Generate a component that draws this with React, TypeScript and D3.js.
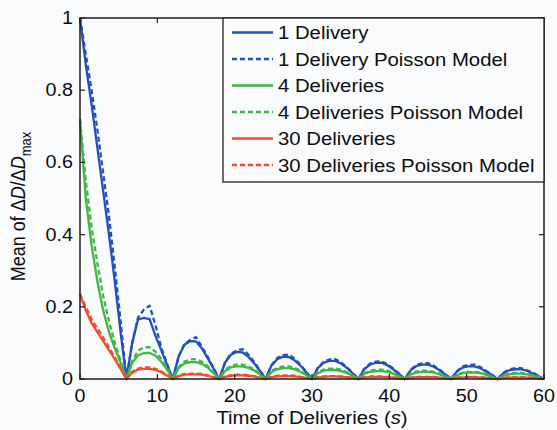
import React from "react";
import * as d3 from "d3";

const SEG_OFFSETS = [0, 0.75, 1.5, 2.25, 3, 3.75, 4.5, 5.25, 6];
const PERIOD_STARTS = [0, 6, 12, 18, 24, 30, 36, 42, 48, 54];
const X_TICKS = [0, 10, 20, 30, 40, 50, 60];
const Y_TICKS = [0, 0.2, 0.4, 0.6, 0.8, 1];
const Y_TICK_LABELS = ["0", "0.2", "0.4", "0.6", "0.8", "1"];

const ONE_DELIVERY = [
  [1.0, 0.87, 0.76, 0.64, 0.52, 0.4, 0.27, 0.13, 0],
  [0, 0.1, 0.165, 0.169, 0.166, 0.12, 0.08, 0.04, 0],
  [0, 0.062, 0.095, 0.105, 0.104, 0.085, 0.058, 0.03, 0],
  [0, 0.045, 0.067, 0.075, 0.074, 0.062, 0.044, 0.023, 0],
  [0, 0.037, 0.055, 0.062, 0.061, 0.052, 0.037, 0.019, 0],
  [0, 0.03, 0.045, 0.05, 0.05, 0.043, 0.031, 0.016, 0],
  [0, 0.027, 0.04, 0.045, 0.045, 0.038, 0.027, 0.014, 0],
  [0, 0.024, 0.036, 0.04, 0.04, 0.034, 0.024, 0.012, 0],
  [0, 0.021, 0.032, 0.035, 0.035, 0.03, 0.021, 0.011, 0],
  [0, 0.016, 0.024, 0.027, 0.027, 0.023, 0.016, 0.008, 0],
];
const ONE_DELIVERY_POISSON = [
  [1.0, 0.9, 0.8, 0.69, 0.57, 0.45, 0.31, 0.16, 0],
  [0, 0.1, 0.17, 0.192, 0.203, 0.15, 0.088, 0.042, 0],
  [0, 0.062, 0.097, 0.108, 0.116, 0.09, 0.062, 0.031, 0],
  [0, 0.046, 0.07, 0.079, 0.083, 0.068, 0.048, 0.025, 0],
  [0, 0.038, 0.058, 0.066, 0.068, 0.056, 0.04, 0.02, 0],
  [0, 0.031, 0.048, 0.054, 0.055, 0.046, 0.033, 0.017, 0],
  [0, 0.028, 0.043, 0.048, 0.049, 0.041, 0.029, 0.015, 0],
  [0, 0.025, 0.039, 0.043, 0.044, 0.037, 0.026, 0.013, 0],
  [0, 0.022, 0.035, 0.039, 0.04, 0.033, 0.023, 0.012, 0],
  [0, 0.017, 0.027, 0.03, 0.03, 0.025, 0.018, 0.009, 0],
];
const FOUR_DELIVERIES = [
  [0.72, 0.5, 0.37, 0.27, 0.19, 0.13, 0.085, 0.045, 0],
  [0, 0.045, 0.065, 0.072, 0.072, 0.065, 0.048, 0.026, 0],
  [0, 0.03, 0.043, 0.047, 0.047, 0.042, 0.032, 0.017, 0],
  [0, 0.022, 0.032, 0.035, 0.035, 0.031, 0.024, 0.013, 0],
  [0, 0.019, 0.027, 0.03, 0.03, 0.027, 0.02, 0.011, 0],
  [0, 0.016, 0.023, 0.025, 0.025, 0.022, 0.017, 0.009, 0],
  [0, 0.014, 0.02, 0.022, 0.022, 0.02, 0.015, 0.008, 0],
  [0, 0.013, 0.018, 0.02, 0.02, 0.018, 0.013, 0.007, 0],
  [0, 0.011, 0.016, 0.018, 0.018, 0.016, 0.012, 0.006, 0],
  [0, 0.009, 0.013, 0.015, 0.015, 0.013, 0.01, 0.005, 0],
];
const FOUR_DELIVERIES_POISSON = [
  [0.72, 0.55, 0.42, 0.32, 0.23, 0.16, 0.1, 0.05, 0],
  [0, 0.05, 0.078, 0.088, 0.088, 0.076, 0.056, 0.03, 0],
  [0, 0.033, 0.048, 0.054, 0.055, 0.048, 0.036, 0.019, 0],
  [0, 0.025, 0.036, 0.04, 0.04, 0.035, 0.027, 0.014, 0],
  [0, 0.022, 0.031, 0.035, 0.035, 0.031, 0.023, 0.012, 0],
  [0, 0.018, 0.026, 0.029, 0.029, 0.026, 0.019, 0.01, 0],
  [0, 0.016, 0.023, 0.026, 0.026, 0.023, 0.017, 0.009, 0],
  [0, 0.014, 0.021, 0.023, 0.023, 0.02, 0.015, 0.008, 0],
  [0, 0.012, 0.018, 0.02, 0.02, 0.018, 0.013, 0.007, 0],
  [0, 0.01, 0.015, 0.017, 0.017, 0.015, 0.011, 0.006, 0],
];
const THIRTY_DELIVERIES = [
  [0.235, 0.19, 0.155, 0.13, 0.105, 0.08, 0.055, 0.028, 0],
  [0, 0.018, 0.026, 0.028, 0.028, 0.025, 0.019, 0.01, 0],
  [0, 0.008, 0.012, 0.013, 0.013, 0.012, 0.009, 0.005, 0],
  [0, 0.006, 0.009, 0.01, 0.01, 0.009, 0.007, 0.004, 0],
  [0, 0.005, 0.007, 0.008, 0.008, 0.007, 0.005, 0.003, 0],
  [0, 0.004, 0.006, 0.007, 0.007, 0.006, 0.005, 0.003, 0],
  [0, 0.004, 0.005, 0.006, 0.006, 0.005, 0.004, 0.002, 0],
  [0, 0.003, 0.005, 0.005, 0.005, 0.005, 0.004, 0.002, 0],
  [0, 0.003, 0.004, 0.005, 0.005, 0.004, 0.003, 0.002, 0],
  [0, 0.003, 0.004, 0.004, 0.004, 0.004, 0.003, 0.002, 0],
];
const THIRTY_DELIVERIES_POISSON = [
  [0.235, 0.2, 0.165, 0.14, 0.115, 0.088, 0.06, 0.03, 0],
  [0, 0.02, 0.029, 0.032, 0.032, 0.028, 0.021, 0.011, 0],
  [0, 0.01, 0.014, 0.015, 0.015, 0.014, 0.01, 0.005, 0],
  [0, 0.007, 0.011, 0.012, 0.012, 0.011, 0.008, 0.004, 0],
  [0, 0.006, 0.009, 0.01, 0.01, 0.009, 0.006, 0.003, 0],
  [0, 0.005, 0.007, 0.008, 0.008, 0.007, 0.005, 0.003, 0],
  [0, 0.005, 0.007, 0.007, 0.007, 0.006, 0.005, 0.003, 0],
  [0, 0.004, 0.006, 0.006, 0.006, 0.006, 0.004, 0.002, 0],
  [0, 0.004, 0.005, 0.006, 0.006, 0.005, 0.004, 0.002, 0],
  [0, 0.003, 0.005, 0.005, 0.005, 0.005, 0.003, 0.002, 0],
];

const SERIES_NAMES = [
  "1 Delivery",
  "1 Delivery Poisson Model",
  "4 Deliveries",
  "4 Deliveries Poisson Model",
  "30 Deliveries",
  "30 Deliveries Poisson Model",
];
const SERIES_DATA = [
  ONE_DELIVERY,
  ONE_DELIVERY_POISSON,
  FOUR_DELIVERIES,
  FOUR_DELIVERIES_POISSON,
  THIRTY_DELIVERIES,
  THIRTY_DELIVERIES_POISSON,
];

const BLUE = "#2250c0";
const GREEN = "#3db845";
const RED = "#f24c2c";
const COLORS = [BLUE, BLUE, GREEN, GREEN, RED, RED];
const DASHED = [false, true, false, true, false, true];

const W = 557;
const H = 430;
const M = { left: 80, right: 13, top: 18, bottom: 51 };
const SX = 1.13;
const FONT = "'Liberation Sans', Arial, sans-serif";
const AXIS = "#1e1e1e";
const TEXT = "#0d0d0d";

function T({ x, y, anchor = "start", size = 17, rotate = 0, children }: any) {
  return (
    <g transform={`translate(${x},${y}) scale(${SX},1) rotate(${rotate})`}>
      <text textAnchor={anchor} fontSize={size} fontFamily={FONT} fill={TEXT}>
        {children}
      </text>
    </g>
  );
}

export default function App() {
  const x = d3.scaleLinear().domain([0, 60]).range([M.left, W - M.right]);
  const y = d3.scaleLinear().domain([0, 1]).range([H - M.bottom, M.top]);
  const line = d3
    .line<[number, number]>()
    .x((d) => x(d[0]))
    .y((d) => y(d[1]));

  const toPoints = (segs: number[][]) => {
    const pts: [number, number][] = [];
    segs.forEach((seg, i) =>
      seg.forEach((v, j) => pts.push([PERIOD_STARTS[i] + SEG_OFFSETS[j], v]))
    );
    return pts;
  };

  const x0 = x(0), x1 = x(60), y0 = y(0), y1 = y(1);
  const tick = 5;

  const legX = 223, legY = 18, legW = x1 - 223, legH = 164;
  const rowY = (i: number) => 32.5 + i * 26.5;

  return (
    <svg width={W} height={H} style={{ position: "absolute", left: 0, top: 0 }}>
      <rect x={0} y={0} width={W} height={H} fill="#fafbfd" />
      {SERIES_DATA.map((s, i) => (
        <path
          key={i}
          d={line(toPoints(s)) || ""}
          fill="none"
          stroke={COLORS[i]}
          strokeWidth={2.3}
          strokeLinejoin="round"
          strokeDasharray={DASHED[i] ? "5,3" : undefined}
        />
      ))}
      <rect x={x0} y={y1} width={x1 - x0} height={y0 - y1} fill="none" stroke={AXIS} strokeWidth={1.5} />
      {X_TICKS.map((t) => (
        <g key={"x" + t}>
          <line x1={x(t)} x2={x(t)} y1={y0} y2={y0 - tick} stroke={AXIS} strokeWidth={1.2} />
          <line x1={x(t)} x2={x(t)} y1={y1} y2={y1 + tick} stroke={AXIS} strokeWidth={1.2} />
          <T x={x(t)} y={y0 + 23} anchor="middle" size={17.5}>{String(t)}</T>
        </g>
      ))}
      {Y_TICKS.map((t, i) => (
        <g key={"y" + t}>
          <line x1={x0} x2={x0 + tick} y1={y(t)} y2={y(t)} stroke={AXIS} strokeWidth={1.2} />
          <line x1={x1} x2={x1 - tick} y1={y(t)} y2={y(t)} stroke={AXIS} strokeWidth={1.2} />
          <T x={x0 - 7} y={y(t) + 6} anchor="end" size={17.5}>{Y_TICK_LABELS[i]}</T>
        </g>
      ))}
      <T x={(x0 + x1) / 2} y={424} anchor="middle" size={18}>
        <tspan>Time of Deliveries (</tspan>
        <tspan fontStyle="italic">s</tspan>
        <tspan>)</tspan>
      </T>
      <g transform={`translate(25,${(y0 + y1) / 2 + 8}) scale(${SX},1) rotate(-90)`}>
        <text textAnchor="middle" fontSize={18} fontFamily={FONT} fill={TEXT}>
          <tspan>Mean of Δ</tspan>
          <tspan fontStyle="italic">D</tspan>
          <tspan>/Δ</tspan>
          <tspan fontStyle="italic">D</tspan>
          <tspan fontSize={13} dy={5}>max</tspan>
        </text>
      </g>
      <rect x={legX} y={legY} width={legW} height={legH} fill="#fafbfd" stroke={AXIS} strokeWidth={1.3} />
      {SERIES_NAMES.map((name, i) => (
        <g key={name}>
          <line
            x1={232}
            x2={273}
            y1={rowY(i)}
            y2={rowY(i)}
            stroke={COLORS[i]}
            strokeWidth={2.3}
            strokeDasharray={DASHED[i] ? "5,3" : undefined}
          />
          <T x={278} y={rowY(i) + 6.5} size={18}>{name}</T>
        </g>
      ))}
    </svg>
  );
}
